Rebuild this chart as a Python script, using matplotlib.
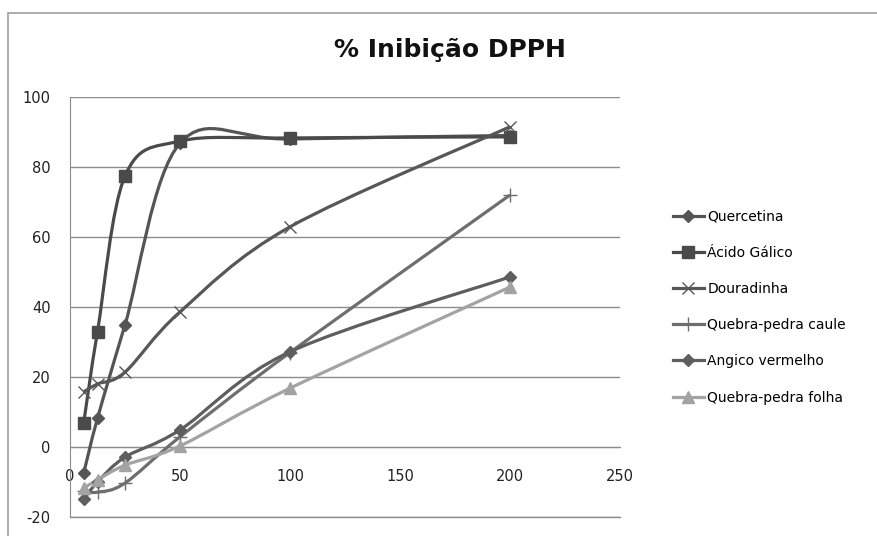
import numpy as np
import matplotlib.pyplot as plt
from matplotlib.path import Path
from matplotlib.patches import PathPatch, Rectangle
from matplotlib.lines import Line2D

plt.rcParams["axes.unicode_minus"] = False

# concentrações (diluição seriada)
conc = [6.25, 12.5, 25, 50, 100, 200]

quercetina = [-7.4, 8.2, 34.9, 86.8, 88.0, 89.0]
acido_galico = [7.0, 33.0, 77.4, 87.4, 88.3, 88.6]
douradinha = [15.8, 18.0, 21.4, 38.6, 62.9, 91.5]
qp_caule = [-12.5, -12.9, -10.3, 2.9, 27.0, 72.0]
angico = [-14.9, -10.0, -2.9, 4.9, 27.2, 48.6]
qp_folha = [-11.7, -9.4, -5.2, 0.3, 16.8, 45.7]

nomes = ["Quercetina", "Ácido Gálico", "Douradinha",
         "Quebra-pedra caule", "Angico vermelho", "Quebra-pedra folha"]
series = [quercetina, acido_galico, douradinha, qp_caule, angico, qp_folha]
cores = ["#555555", "#4a4a4a", "#575757", "#6e6e6e", "#5e5e5e", "#a3a3a3"]
marcadores = ["D", "s", "x", "+", "D", "^"]
tam = [6, 9, 9, 10, 6, 8]


def curva_suave(x, y):
    # linha suavizada tipo Excel (Bezier a partir dos pontos)
    p = np.column_stack([x, y]).astype(float)
    n = len(p)
    verts = [p[0]]
    codes = [Path.MOVETO]
    for i in range(n - 1):
        p0 = p[i - 1] if i > 0 else p[i]
        p3 = p[i + 2] if i + 2 < n else p[i + 1]
        c1 = p[i] + (p[i + 1] - p0) / 6
        c2 = p[i + 1] - (p3 - p[i]) / 6
        verts += [c1, c2, p[i + 1]]
        codes += [Path.CURVE4] * 3
    return Path(verts, codes)


fig = plt.figure(figsize=(8.77, 5.36), dpi=100)
fig.patches.append(Rectangle((8 / 877, -0.1), 1.2, 1 - 13 / 536 + 0.1,
                             transform=fig.transFigure, fill=False,
                             edgecolor="#a0a0a0", linewidth=1.2))

ax = fig.add_axes([70 / 877, 1 - 517 / 536, 550 / 877, 420 / 536])

for y, nome, cor, mk, ms in zip(series, nomes, cores, marcadores, tam):
    ax.add_patch(PathPatch(curva_suave(conc, y), fill=False, edgecolor=cor,
                           linewidth=2.3, zorder=3))
    ax.plot(conc, y, linestyle="none", marker=mk, markersize=ms,
            color=cor, markeredgewidth=1.0, zorder=4)

ax.set_xlim(0, 250)
ax.set_ylim(-20, 100)
ax.set_xticks([0, 50, 100, 150, 200, 250])
ax.set_yticks([-20, 0, 20, 40, 60, 80, 100])
ax.grid(axis="y", color="#8c8c8c", linewidth=1.0)
ax.axhline(-20, color="#8c8c8c", linewidth=1.0, clip_on=False, zorder=0)
ax.set_axisbelow(True)

for s in ["top", "right"]:
    ax.spines[s].set_visible(False)
ax.spines["bottom"].set_position(("data", 0))
ax.spines["bottom"].set_color("#8c8c8c")
ax.spines["left"].set_color("#8c8c8c")
ax.tick_params(axis="x", length=0, pad=16, labelsize=10.5, colors="#222222")
ax.tick_params(axis="y", length=0, pad=14, labelsize=10.5, colors="#222222")

fig.text(0.513, 1 - 50 / 536, "% Inibição DPPH", ha="center", va="center",
         fontsize=18, fontweight="bold", color="#111111")

handles = [Line2D([], [], color=c, linewidth=2.3, marker=m, markersize=s,
                  markeredgewidth=1.0)
           for c, m, s in zip(cores, marcadores, tam)]
fig.legend(handles, nomes, loc="center left",
           bbox_to_anchor=(660 / 877, 1 - 307 / 536), frameon=False,
           fontsize=10, handlelength=2.3, handletextpad=0.2,
           labelspacing=1.6)

fig.savefig("out.png", dpi=100)
